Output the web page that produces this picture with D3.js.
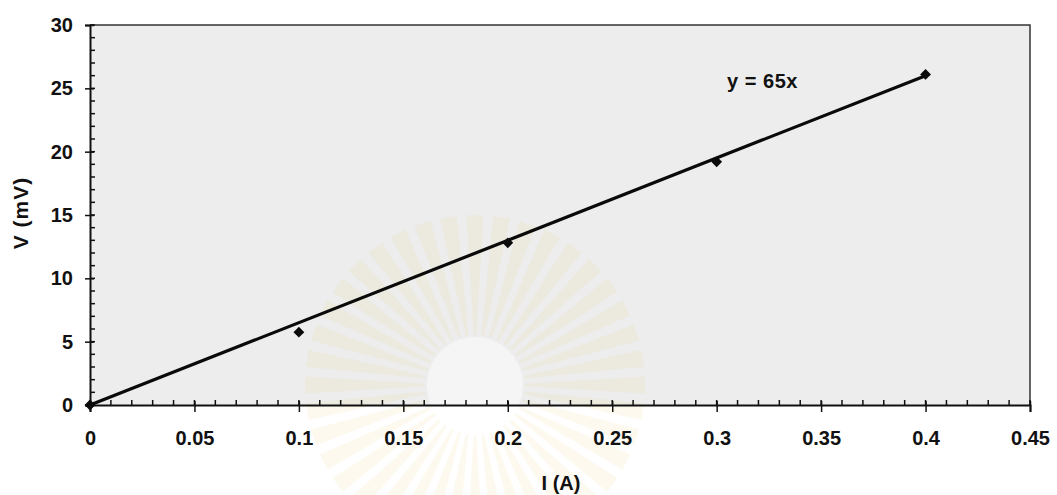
<!DOCTYPE html>
<html><head><meta charset="utf-8">
<script src="https://cdn.jsdelivr.net/npm/d3@7"></script>
<style>body{margin:0;background:#fff}svg text{font-family:"Liberation Sans",Arial,sans-serif;font-weight:bold;fill:#111}</style>
</head><body>
<svg id="c" width="1057" height="495"></svg>
<script>
const currentA = [0, 0.1, 0.2, 0.3, 0.4];
const voltageMV = [0, 5.75, 12.8, 19.2, 26.1];
const slope = 65;
const fitRange = [0, 0.4];
const xTicks = [0, 0.05, 0.1, 0.15, 0.2, 0.25, 0.3, 0.35, 0.4, 0.45];
const yTicks = [0, 5, 10, 15, 20, 25, 30];
const equationLabel = "y = 65x";

const svg = d3.select("#c");
const L = 90, R = 1030, T = 25, B = 405;
const x = d3.scaleLinear().domain([0, 0.45]).range([L, R]);
const y = d3.scaleLinear().domain([0, 30]).range([B, T]);

svg.append("rect").attr("x", L).attr("y", T).attr("width", R - L).attr("height", B - T)
  .attr("fill", "#ededed");

// faint watermark rays (decorative)
const wm = svg.append("g").attr("opacity", 0.07);
const cx = 475, cy = 385;
d3.range(0, 40).forEach(i => {
  const a = i * 2 * Math.PI / 40;
  const r0 = 50, r1 = 170, w = 0.05;
  const p = [[cx + r0 * Math.cos(a - w * 0.5), cy + r0 * Math.sin(a - w * 0.5)],
             [cx + r1 * Math.cos(a - w), cy + r1 * Math.sin(a - w)],
             [cx + r1 * Math.cos(a + w), cy + r1 * Math.sin(a + w)],
             [cx + r0 * Math.cos(a + w * 0.5), cy + r0 * Math.sin(a + w * 0.5)]];
  wm.append("path").attr("d", "M" + p.join("L") + "Z").attr("fill", "#e8b830");
});
svg.append("circle").attr("cx", cx).attr("cy", cy).attr("r", 48).attr("fill", "#fff").attr("opacity", 0.45);

// top & right border
svg.append("path").attr("d", `M${L},${T}H${R}V${B}`).attr("fill", "none")
  .attr("stroke", "#333").attr("stroke-width", 1.5);

// minor ticks
const xMinor = d3.range(0, 46).map(i => i * 0.01);
svg.append("g").selectAll("line").data(xMinor).join("line")
  .attr("x1", d => x(d)).attr("x2", d => x(d)).attr("y1", B).attr("y2", B - 5)
  .attr("stroke", "#111").attr("stroke-width", 1.5);
const yMinor = d3.range(0, 31);
svg.append("g").selectAll("line").data(yMinor).join("line")
  .attr("y1", d => y(d)).attr("y2", d => y(d)).attr("x1", L).attr("x2", L + 5)
  .attr("stroke", "#111").attr("stroke-width", 1.5);

const xAxis = svg.append("g").attr("transform", `translate(0,${B})`)
  .call(d3.axisBottom(x).tickValues(xTicks).tickFormat(d => d3.format("")(+d.toFixed(2))).tickSize(7).tickPadding(19));
const yAxis = svg.append("g").attr("transform", `translate(${L},0)`)
  .call(d3.axisLeft(y).tickValues(yTicks).tickSize(5).tickPadding(12));
[xAxis, yAxis].forEach(g => {
  g.select(".domain").attr("stroke", "#111").attr("stroke-width", 2);
  g.selectAll(".tick line").attr("stroke", "#111").attr("stroke-width", 1.5);
  g.selectAll("text").style("font-size", "20px").attr("fill", "#111");
});
xAxis.selectAll(".tick line").attr("y1", -4);
yAxis.selectAll(".tick line").attr("x1", 4);

// fit line
svg.append("line").attr("x1", x(fitRange[0])).attr("y1", y(slope * fitRange[0]))
  .attr("x2", x(fitRange[1])).attr("y2", y(slope * fitRange[1]))
  .attr("stroke", "#0a0a0a").attr("stroke-width", 3.2);

// points
svg.append("g").selectAll("path").data(currentA.map((d, i) => [d, voltageMV[i]])).join("path")
  .attr("d", d3.symbol(d3.symbolDiamond2, 75))
  .attr("transform", d => `translate(${x(d[0])},${y(d[1])})`)
  .attr("fill", "#0a0a0a");

svg.append("text").attr("x", x(0.305)).attr("y", y(25.55)).attr("dy", "0.35em")
  .style("font-size", "20px").style("letter-spacing", "0.5px").text(equationLabel);

svg.append("text").attr("x", 561).attr("y", 490).attr("text-anchor", "middle")
  .style("font-size", "20px").text("I (A)");
svg.append("text").attr("transform", `translate(28,213) rotate(-90)`).attr("text-anchor", "middle")
  .style("font-size", "21px").style("letter-spacing", "1px").text("V (mV)");
</script>
</body></html>
